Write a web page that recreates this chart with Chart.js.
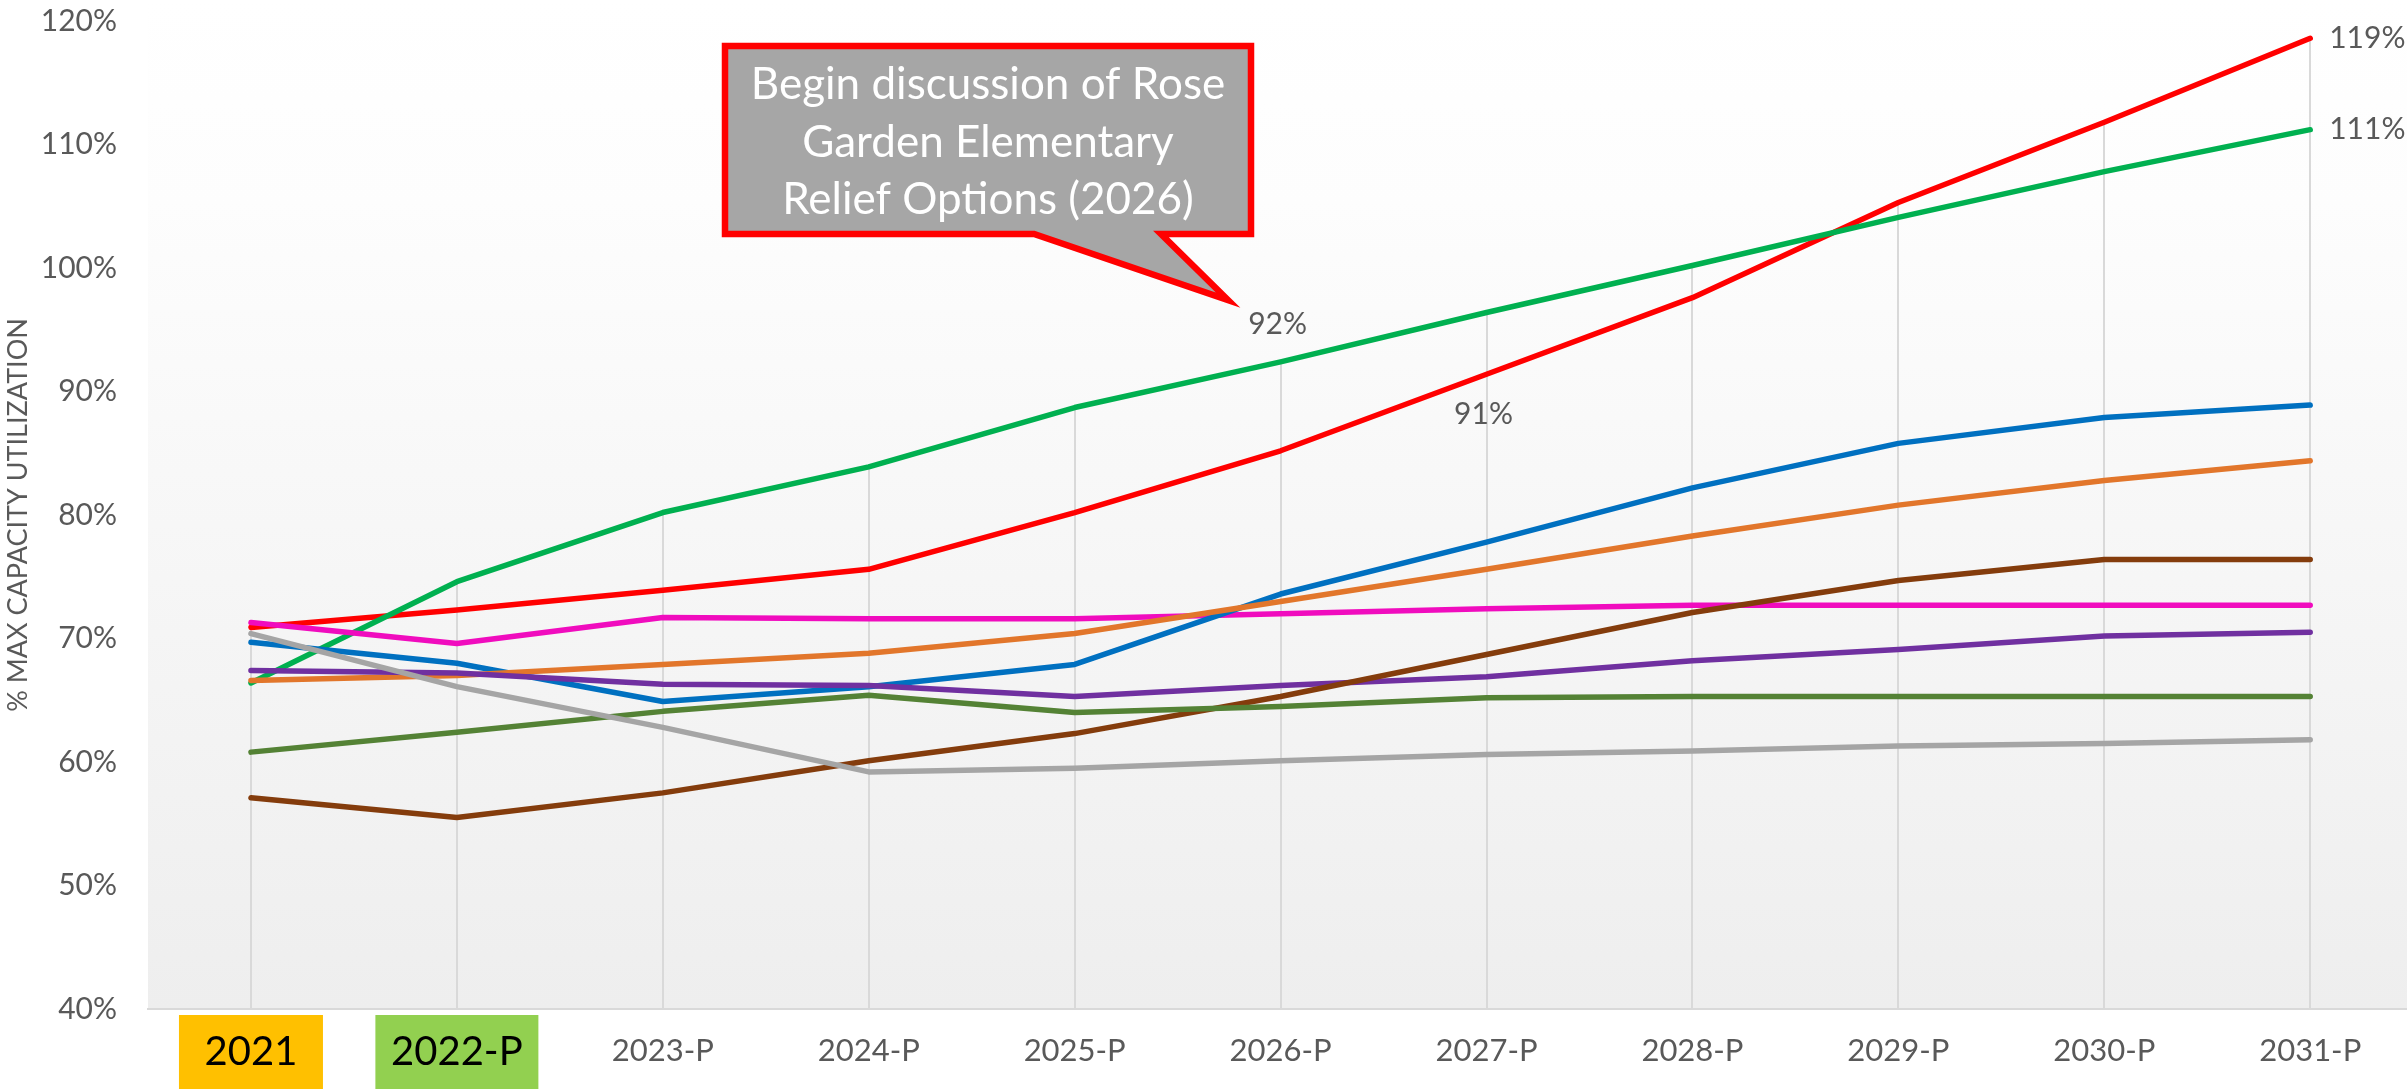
<!DOCTYPE html>
<html>
<head>
<meta charset="utf-8">
<script src="https://cdn.jsdelivr.net/npm/chart.js@4/dist/chart.umd.min.js"></script>
<style>
  html, body { margin: 0; padding: 0; background: #ffffff; overflow: hidden; }
  #wrap { width: 2407px; height: 1089px; position: relative; }
</style>
</head>
<body>
<div id="wrap"><canvas id="c"></canvas></div>
<script>
// ---- data ----
const categories = ['2021', '2022-P', '2023-P', '2024-P', '2025-P', '2026-P', '2027-P', '2028-P', '2029-P', '2030-P', '2031-P'];
const yTickValues = [40, 50, 60, 70, 80, 90, 100, 110, 120];
const seriesRed     = [70.9, 72.3, 73.9, 75.6, 80.2, 85.2, 91.4, 97.6, 105.3, 111.8, 118.6];
const seriesGreen   = [66.4, 74.6, 80.2, 83.9, 88.7, 92.4, 96.4, 100.2, 104.1, 107.8, 111.2];
const seriesBlue    = [69.7, 68.0, 64.9, 66.1, 67.9, 73.6, 77.8, 82.2, 85.8, 87.9, 88.9];
const seriesOrange  = [66.6, 67.0, 67.9, 68.8, 70.4, 73.0, 75.6, 78.3, 80.8, 82.8, 84.4];
const seriesGray    = [70.4, 66.1, 62.8, 59.2, 59.5, 60.1, 60.6, 60.9, 61.3, 61.5, 61.8];
const seriesBrown   = [57.1, 55.5, 57.5, 60.1, 62.3, 65.3, 68.7, 72.1, 74.7, 76.4, 76.4];
const seriesMagenta = [71.3, 69.6, 71.7, 71.6, 71.6, 72.0, 72.4, 72.7, 72.7, 72.7, 72.7];
const seriesPurple  = [67.4, 67.2, 66.3, 66.2, 65.3, 66.2, 66.9, 68.2, 69.1, 70.2, 70.5];
const seriesOlive   = [60.8, 62.4, 64.1, 65.4, 64.0, 64.5, 65.2, 65.3, 65.3, 65.3, 65.3];
const yAxisTitle = '% MAX CAPACITY UTILIZATION';
const calloutLines = ['Begin discussion of Rose', 'Garden Elementary', 'Relief Options (2026)'];

// ---- styles ----
const FONT = 'Lato, "Open Sans", "Liberation Sans", sans-serif';
const TEXT_GRAY = '#595959';
const seriesDefs = [
  { label: 'Series 9', values: seriesGray,    color: '#a5a5a5' },
  { label: 'Series 8', values: seriesOlive,   color: '#548235' },
  { label: 'Series 7', values: seriesBrown,   color: '#843c0c' },
  { label: 'Series 6', values: seriesPurple,  color: '#7030a0' },
  { label: 'Series 5', values: seriesOrange,  color: '#e2762b' },
  { label: 'Series 4', values: seriesBlue,    color: '#0070c0' },
  { label: 'Series 3', values: seriesMagenta, color: '#f00cbe' },
  { label: 'Series 2', values: seriesGreen,   color: '#00b050' },
  { label: 'Series 1', values: seriesRed,     color: '#ff0000' }
];
const dataLabels = [
  { values: seriesRed,   index: 10, pos: 'right' },
  { values: seriesGreen, index: 10, pos: 'right' },
  { values: seriesGreen, index: 5,  pos: 'above' },
  { values: seriesRed,   index: 6,  pos: 'below' }
];
const boxedTicks = [
  { index: 0, fill: '#ffc000', width: 144 },
  { index: 1, fill: '#92d050', width: 163 }
];

const datasets = seriesDefs.map(d => ({
  label: d.label,
  data: d.values.map((v, i) => ({ x: i, y: v })),
  borderColor: d.color,
  backgroundColor: d.color,
  borderWidth: 5.5,
  pointRadius: 0,
  tension: 0,
  borderCapStyle: 'round',
  borderJoinStyle: 'round',
  fill: false
}));

function zeroPad(s) { s.paddingTop = 0; s.paddingBottom = 0; s.paddingLeft = 0; s.paddingRight = 0; }

const decorPlugin = {
  id: 'decor',
  beforeDraw(chart) {
    const { ctx, chartArea: a, scales } = chart;
    ctx.save();
    const g = ctx.createLinearGradient(0, 0, 0, a.bottom);
    g.addColorStop(0, '#ffffff');
    g.addColorStop(0.2, '#fdfdfd');
    g.addColorStop(1, '#eeeeee');
    ctx.fillStyle = g;
    ctx.fillRect(a.left, 0, a.right - a.left, a.bottom);
    boxedTicks.forEach(b => {
      const x = scales.x.getPixelForValue(b.index);
      ctx.fillStyle = b.fill;
      ctx.fillRect(x - b.width / 2, 1015, b.width, 74);
      ctx.fillStyle = '#000000';
      ctx.font = '40px ' + FONT;
      ctx.textAlign = 'center';
      ctx.textBaseline = 'middle';
      ctx.fillText(categories[b.index], x, 1052);
    });
    ctx.restore();
  },
  beforeDatasetsDraw(chart) {
    const { ctx, chartArea: a, scales } = chart;
    ctx.save();
    ctx.strokeStyle = '#d9d9d9';
    ctx.lineWidth = 2;
    categories.forEach((c, i) => {
      const maxV = Math.max(...seriesDefs.map(d => d.values[i]));
      const x = Math.round(scales.x.getPixelForValue(i));
      ctx.beginPath();
      ctx.moveTo(x, scales.y.getPixelForValue(maxV));
      ctx.lineTo(x, a.bottom);
      ctx.stroke();
    });
    ctx.restore();
  },
  afterDatasetsDraw(chart) {
    const { ctx, scales } = chart;
    ctx.save();
    ctx.font = '30px ' + FONT;
    ctx.fillStyle = TEXT_GRAY;
    dataLabels.forEach(l => {
      const v = l.values[l.index];
      const x = scales.x.getPixelForValue(l.index);
      const y = scales.y.getPixelForValue(v);
      const t = Math.round(v) + '%';
      ctx.textBaseline = 'middle';
      if (l.pos === 'right') {
        ctx.textAlign = 'left';
        ctx.fillText(t, x + 19, y);
      } else if (l.pos === 'above') {
        ctx.textAlign = 'center';
        ctx.fillText(t, x - 3, y - 38);
      } else {
        ctx.textAlign = 'center';
        ctx.fillText(t, x - 3, y + 40);
      }
    });
    const L = 725, R = 1251, T = 46, B = 234;
    ctx.beginPath();
    ctx.moveTo(L, T);
    ctx.lineTo(R, T);
    ctx.lineTo(R, B);
    ctx.lineTo(1161, B);
    ctx.lineTo(1228, 300);
    ctx.lineTo(1034, B);
    ctx.lineTo(L, B);
    ctx.closePath();
    ctx.fillStyle = '#a6a6a6';
    ctx.fill();
    ctx.lineWidth = 6.5;
    ctx.strokeStyle = '#ff0000';
    ctx.lineJoin = 'miter';
    ctx.stroke();
    ctx.fillStyle = '#ffffff';
    ctx.font = '44px ' + FONT;
    ctx.textAlign = 'center';
    ctx.textBaseline = 'alphabetic';
    calloutLines.forEach((s, i) => ctx.fillText(s, 988, 99 + i * 57.5));
    ctx.restore();
  }
};

new Chart(document.getElementById('c'), {
  type: 'line',
  data: { datasets },
  plugins: [decorPlugin],
  options: {
    responsive: true,
    maintainAspectRatio: false,
    animation: false,
    events: [],
    layout: { padding: { top: 21, right: 0, bottom: 0, left: 0 } },
    plugins: { legend: { display: false }, tooltip: { enabled: false } },
    scales: {
      x: {
        type: 'linear',
        min: -0.5,
        max: 10.47,
        afterFit(s) { s.height = 80; zeroPad(s); },
        afterBuildTicks(s) { s.ticks = categories.map((c, i) => ({ value: i })); },
        grid: { display: false, drawTicks: false },
        border: { display: true, color: '#d9d9d9', width: 2 },
        ticks: {
          autoSkip: false,
          maxRotation: 0,
          padding: 23,
          font: { family: FONT, size: 31 },
          color: ctx => (ctx.index < 2 ? 'rgba(0,0,0,0)' : TEXT_GRAY),
          callback: v => categories[v]
        }
      },
      y: {
        min: 40,
        max: 120,
        afterFit(s) { s.width = 148; zeroPad(s); },
        afterBuildTicks(s) { s.ticks = yTickValues.map(v => ({ value: v })); },
        grid: { display: false, drawTicks: false },
        border: { display: false },
        ticks: {
          padding: 31,
          font: { family: FONT, size: 30 },
          color: TEXT_GRAY,
          callback: v => v + '%'
        },
        title: {
          display: true,
          text: yAxisTitle,
          color: TEXT_GRAY,
          font: { family: FONT, size: 27 },
          padding: { top: 2, bottom: 0 }
        }
      }
    }
  }
});
</script>
</body>
</html>
